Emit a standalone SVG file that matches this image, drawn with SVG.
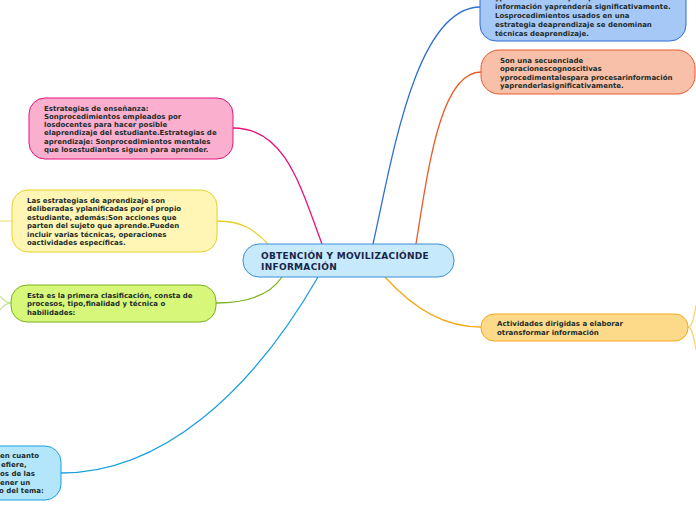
<svg xmlns="http://www.w3.org/2000/svg" width="696" height="520" viewBox="0 0 696 520">
<style>
text{font-family:"DejaVu Sans",Verdana,sans-serif;font-weight:bold;font-size:7px;fill:#1d2d2a}
.c{fill:none;stroke-width:1.3}
.n{stroke-width:1}
.t{font-size:9px;letter-spacing:0.3px;fill:#16264a}
</style>
<rect width="696" height="520" fill="#ffffff"/>
<g id="connectors">
<path class="c" stroke="#2e6fd1" d="M373,244 C392,160 415,8 480,7"/>
<path class="c" stroke="#ea5a2a" d="M416,244 C428,170 440,72 481,72"/>
<path class="c" stroke="#e6127a" d="M322,244 C300,185 285,128 233,128"/>
<path class="c" stroke="#e8d02a" d="M268,244 C255,230 242,221 217,221"/>
<path class="c" stroke="#f2e68a" d="M12,221 L0,221"/>
<path class="c" stroke="#7ab21a" d="M282,277 C270,295 248,303 216,303"/>
<path class="c" stroke="#c8e39a" d="M11,303 C6,303 3,300 0,296 M11,303 C6,303 3,306 0,310"/>
<path class="c" stroke="#1aa0e0" d="M318,277 C250,395 160,473 61,473"/>
<path class="c" stroke="#f5a91b" d="M385,277 C415,310 445,327 481,327"/>
<path class="c" stroke="#f9d57a" d="M688,327 C692,327 694,318 696,305 M688,327 C692,327 694,338 696,350"/>
</g>
<g id="central">
<rect class="n" x="243" y="244" width="211" height="33" rx="16" fill="#c6e9fb" stroke="#3b8fd6"/>
<text class="t" x="261" y="259">OBTENCIÓN Y MOVILIZACIÓNDE</text>
<text class="t" x="261" y="270">INFORMACIÓN</text>
</g>
<g id="node-blue">
<rect class="n" x="480" y="-20" width="206" height="61" rx="16" fill="#a6c8f7" stroke="#2e6fd1"/>
<text x="495" y="0">yprocedimentales para procesar</text>
<text x="495" y="9">información yaprendería significativamente.</text>
<text x="495" y="18">Losprocedimientos usados en una</text>
<text x="495" y="27">estrategia deaprendizaje se denominan</text>
<text x="495" y="36">técnicas deaprendizaje.</text>
</g>
<g id="node-salmon">
<rect class="n" x="481" y="50" width="214" height="44" rx="18" fill="#f8bfa9" stroke="#ea5a2a"/>
<text x="500" y="63">Son una secuenciade</text>
<text x="500" y="71">operacionescognoscitivas</text>
<text x="500" y="80">yprocedimentalespara procesarinformación</text>
<text x="500" y="88">yaprenderlasignificativamente.</text>
</g>
<g id="node-pink">
<rect class="n" x="29" y="98" width="204" height="61" rx="16" fill="#fbafcf" stroke="#e6127a"/>
<text x="44" y="111">Estrategias de enseñanza:</text>
<text x="44" y="119">Sonprocedimientos empleados por</text>
<text x="44" y="127">losdocentes para hacer posible</text>
<text x="44" y="135">elaprendizaje del estudiante.Estrategias de</text>
<text x="44" y="144">aprendizaje: Sonprocedimientos mentales</text>
<text x="44" y="152">que losestudiantes siguen para aprender.</text>
</g>
<g id="node-yellow">
<rect class="n" x="12" y="190" width="205" height="62" rx="16" fill="#fff6b5" stroke="#e8d02a"/>
<text x="27" y="203">Las estrategias de aprendizaje son</text>
<text x="27" y="211">deliberadas yplanificadas por el propio</text>
<text x="27" y="220">estudiante, además:Son acciones que</text>
<text x="27" y="228">parten del sujeto que aprende.Pueden</text>
<text x="27" y="237">incluir varias técnicas, operaciones</text>
<text x="27" y="245">oactividades específicas.</text>
</g>
<g id="node-green">
<rect class="n" x="11" y="285" width="205" height="37" rx="16" fill="#d7f77a" stroke="#7ab21a"/>
<text x="27" y="298">Esta es la primera clasificación, consta de</text>
<text x="27" y="306">procesos, tipo,finalidad y técnica o</text>
<text x="27" y="315">habilidades:</text>
</g>
<g id="node-lightblue">
<rect class="n" x="-150" y="446" width="211" height="54" rx="16" fill="#b3e6fb" stroke="#1aa0e0"/>
<text x="0" y="458">en cuanto</text>
<text x="1" y="467">efiere,</text>
<text x="0" y="476">os de las</text>
<text x="0" y="485">ener un</text>
<text x="-1" y="493">o del tema:</text>
</g>
<g id="node-orange">
<rect class="n" x="481" y="314" width="207" height="27" rx="13" fill="#fdd98a" stroke="#f5a91b"/>
<text x="497" y="326">Actividades dirigidas a elaborar</text>
<text x="497" y="335">otransformar información</text>
</g>
</svg>
